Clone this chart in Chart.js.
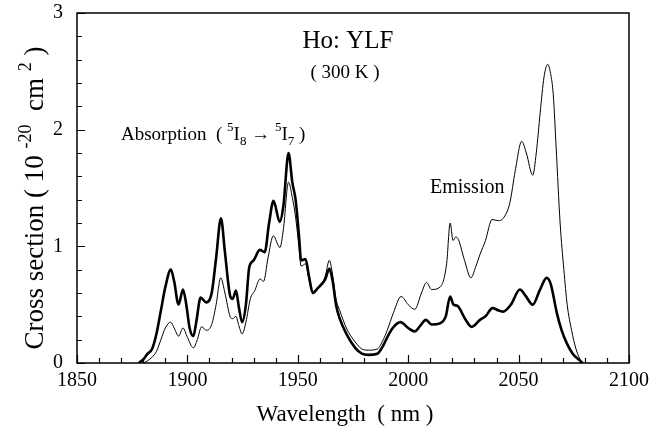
<!DOCTYPE html>
<html>
<head>
<meta charset="utf-8">
<script src="https://cdn.jsdelivr.net/npm/chart.js@4.4.0/dist/chart.umd.min.js"></script>
<style>
  html, body { margin: 0; padding: 0; background: #fff; }
</style>
</head>
<body>
<canvas id="chart" width="665" height="436"></canvas>
<script>
// thick curve
const thickNm = [1878,1880,1882,1884,1886,1888,1890,1892.5,1894,1896,1898,1899.5,1901,1902.7,1904,1906,1908.5,1911,1913,1915.2,1917,1919.3,1920.5,1922,1923.3,1924.8,1926.5,1928,1930,1932.8,1935,1937,1939,1941.8,1943.5,1945.8,1947.5,1949,1950.5,1951.5,1953.5,1955,1956.8,1959,1961,1962.5,1964.3,1965.8,1967.3,1969,1972,1976,1979,1982,1986,1988.7,1990.5,1993,1996.5,2000,2003,2005.5,2008,2010.6,2014.4,2017,2019,2020.5,2022.3,2025.7,2028.8,2032.5,2035,2038.2,2041,2043,2046.5,2050.6,2053,2056.4,2059.5,2062.7,2064.5,2067.3,2069.5,2071.8,2074.5,2077.8,2079];
const thickVal = [0,0.03,0.08,0.12,0.25,0.45,0.65,0.80,0.70,0.50,0.63,0.50,0.30,0.23,0.35,0.56,0.52,0.60,0.90,1.24,0.95,0.58,0.55,0.62,0.48,0.35,0.50,0.82,0.88,0.97,0.95,1.20,1.39,1.21,1.35,1.80,1.55,1.40,1.10,0.88,0.89,0.75,0.60,0.64,0.68,0.72,0.81,0.70,0.50,0.38,0.25,0.13,0.08,0.07,0.08,0.15,0.22,0.30,0.35,0.30,0.27,0.32,0.37,0.33,0.34,0.40,0.57,0.50,0.49,0.38,0.31,0.37,0.40,0.47,0.45,0.44,0.50,0.63,0.58,0.50,0.62,0.73,0.68,0.43,0.28,0.17,0.08,0.02,0];

// thin curve
const thinNm = [1880,1882,1884,1886,1888,1890,1892.4,1894,1896,1898,1900,1902.7,1904.5,1906.4,1908.7,1911,1913,1915.1,1917,1919.3,1920.5,1922,1923.3,1924.8,1926.5,1928.5,1930.5,1932.9,1934.5,1936.5,1938.9,1941.9,1943.5,1945.8,1947.5,1949,1950.5,1951.5,1953.5,1955,1956.8,1959,1961,1962.5,1964.3,1965.8,1967.3,1969,1972,1976,1979,1982,1986,1988.7,1990.5,1993.3,1996.8,2000,2003,2006,2008.3,2010.6,2014.4,2017.4,2019,2020.3,2021.5,2022.7,2025.5,2028.4,2030.5,2032.5,2035,2038,2040.8,2043,2046,2048.5,2051.4,2053.5,2056.4,2058,2059.8,2061.5,2063.2,2064.5,2065.7,2067,2068.8,2070.5,2072,2074,2076,2078.5];
const thinVal = [0,0.02,0.05,0.10,0.20,0.30,0.35,0.30,0.23,0.30,0.22,0.13,0.20,0.31,0.28,0.33,0.50,0.73,0.60,0.40,0.38,0.40,0.32,0.25,0.35,0.55,0.62,0.72,0.70,0.90,1.09,0.99,1.15,1.55,1.42,1.25,1.00,0.83,0.85,0.72,0.60,0.65,0.68,0.75,0.88,0.75,0.55,0.45,0.30,0.18,0.12,0.11,0.12,0.20,0.28,0.43,0.57,0.50,0.46,0.60,0.69,0.63,0.65,0.85,1.20,1.05,1.08,1.06,0.88,0.73,0.82,0.93,1.05,1.23,1.22,1.24,1.37,1.65,1.90,1.80,1.61,1.80,2.15,2.45,2.56,2.48,2.30,1.85,1.20,0.80,0.50,0.28,0.12,0];

const xTicks = [1850, 1900, 1950, 2000, 2050, 2100];
const yTicks = [0, 1, 2, 3];

const FONT = "'Liberation Serif', 'Times New Roman', serif";

const toPoints = (xs, ys) => xs.map((x, i) => ({ x: x, y: ys[i] }));

// draw text with super/subscript pieces
function richText(ctx, x, y, parts, size, align) {
  const small = Math.round(size * 0.68);
  let total = 0;
  parts.forEach(p => {
    ctx.font = (p.s ? small : size) + "px " + FONT;
    total += ctx.measureText(p.t).width;
  });
  let cx = align === "center" ? x - total / 2 : x;
  parts.forEach(p => {
    ctx.font = (p.s ? small : size) + "px " + FONT;
    let dy = 0;
    if (p.s === "sup") dy = -size * 0.45;
    if (p.s === "sub") dy = size * 0.25;
    ctx.fillText(p.t, cx, y + dy);
    cx += ctx.measureText(p.t).width;
  });
}

const decorations = {
  id: "decorations",
  afterDraw(chart) {
    const { ctx, chartArea: a, scales } = chart;
    const xs = scales.x, ys = scales.y;
    ctx.save();
    ctx.strokeStyle = "#000";
    ctx.fillStyle = "#000";

    // frame
    ctx.lineWidth = 1.5;
    ctx.strokeRect(a.left, a.top, a.right - a.left, a.bottom - a.top);

    // inward ticks
    ctx.lineWidth = 1.2;
    ctx.beginPath();
    for (let v = 1850; v <= 2100; v += 10) {
      const px = Math.round(xs.getPixelForValue(v)) + 0.5;
      const len = v % 50 === 0 ? 8 : 5;
      ctx.moveTo(px, a.bottom);
      ctx.lineTo(px, a.bottom - len);
    }
    for (let i = 0; i <= 15; i++) {
      const v = i * 0.2;
      const py = Math.round(ys.getPixelForValue(v)) + 0.5;
      const len = i % 5 === 0 ? 8 : 5;
      ctx.moveTo(a.left, py);
      ctx.lineTo(a.left + len, py);
    }
    ctx.stroke();

    ctx.textBaseline = "alphabetic";
    ctx.textAlign = "left";

    // annotations
    richText(ctx, 348, 48, [{ t: "Ho: YLF" }], 25, "center");
    richText(ctx, 345, 78, [{ t: "( 300 K )" }], 19, "center");
    richText(ctx, 121, 140, [
      { t: "Absorption  ( " }, { t: "5", s: "sup" }, { t: "I" }, { t: "8", s: "sub" },
      { t: " \u2192 " }, { t: "5", s: "sup" }, { t: "I" }, { t: "7", s: "sub" }, { t: " )" }
    ], 19, "left");
    richText(ctx, 430, 193, [{ t: "Emission" }], 20, "left");

    // x title
    richText(ctx, 345, 421, [{ t: "Wavelength  ( nm )" }], 23, "center");

    // y title
    ctx.save();
    ctx.translate(43, 198);
    ctx.rotate(-Math.PI / 2);
    richText(ctx, 0, 0, [
      { t: "Cross section ( 10 " }, { t: "-20", s: "sup" }, { t: "  cm " }, { t: "2", s: "sup" }, { t: " )" }
    ], 27, "center");
    ctx.restore();

    ctx.restore();
  }
};

new Chart(document.getElementById("chart"), {
  type: "line",
  data: {
    datasets: [
      {
        label: "thick",
        data: toPoints(thickNm, thickVal),
        borderColor: "#000",
        borderWidth: 2.6,
        pointRadius: 0,
        fill: false,
        cubicInterpolationMode: "monotone"
      },
      {
        label: "thin",
        data: toPoints(thinNm, thinVal),
        borderColor: "#000",
        borderWidth: 1,
        pointRadius: 0,
        fill: false,
        cubicInterpolationMode: "monotone"
      }
    ]
  },
  options: {
    responsive: false,
    animation: false,
    devicePixelRatio: 1,
    layout: { padding: { left: 0, top: 13, right: 36, bottom: 0 } },
    plugins: {
      legend: { display: false },
      tooltip: { enabled: false }
    },
    scales: {
      x: {
        type: "linear",
        min: 1850,
        max: 2100,
        afterBuildTicks: (s) => { s.ticks = xTicks.map(v => ({ value: v })); },
        afterFit: (s) => {
          s.height = 73;
          s.paddingLeft = 0;
          s.paddingRight = 0;
        },
        grid: { display: false, drawTicks: false },
        border: { display: false },
        ticks: {
          color: "#000",
          padding: 6,
          maxRotation: 0,
          callback: (v) => String(v),
          font: { family: FONT, size: 20 }
        }
      },
      y: {
        min: 0,
        max: 3,
        afterBuildTicks: (s) => { s.ticks = yTicks.map(v => ({ value: v })); },
        afterFit: (s) => {
          s.width = 77;
          s.paddingTop = 0;
          s.paddingBottom = 0;
        },
        grid: { display: false, drawTicks: false },
        border: { display: false },
        ticks: {
          color: "#000",
          padding: 14,
          callback: (v) => String(v),
          font: { family: FONT, size: 20 }
        }
      }
    }
  },
  plugins: [decorations]
});
</script>
</body>
</html>
